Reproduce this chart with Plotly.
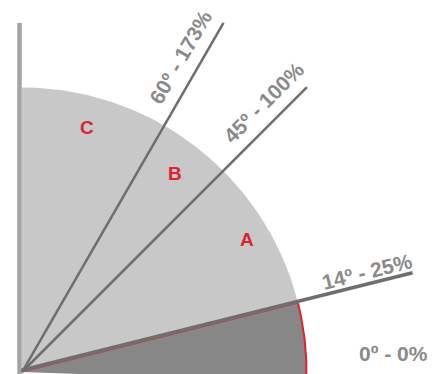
import numpy as np
import plotly.graph_objs as go

# slope angles (degrees) and matching grade in percent
angles = [0, 14, 45, 60]
grades = [0, 25, 100, 173]
zones = ["A", "B", "C"]

# drawing helpers (pixel space, y up)
W, H = 440, 374
ox, oy = 22, 2          # origin of the fan
R = 284.5               # radius of the shaded quarter disc
L = 403                 # length of the slope lines
LABEL_GREY = "#8a8a8a"
RED = "#d9252f"
FONT = "Liberation Sans, Arial, sans-serif"


def pt(deg, r):
    a = np.radians(deg)
    return ox + r * np.cos(a), oy + r * np.sin(a)


def sector(a0, a1, r):
    t = np.linspace(a0, a1, 80)
    xs = [ox] + [pt(d, r)[0] for d in t] + [ox]
    ys = [oy] + [pt(d, r)[1] for d in t] + [oy]
    return xs, ys


fig = go.Figure()

# light sector between 14 and 90 degrees
xs, ys = sector(angles[1], 90, R)
fig.add_trace(go.Scatter(x=xs, y=ys, fill="toself", fillcolor="#c8c8c8",
                         mode="lines", line={"width": 0}, hoverinfo="skip"))

# dark sector between 0 and 14 degrees
xs, ys = sector(angles[0] - 2, angles[1], R)
fig.add_trace(go.Scatter(x=xs, y=ys, fill="toself", fillcolor="#878787",
                         mode="lines", line={"width": 0}, hoverinfo="skip"))

# red arc + thin red edge for the dark sector
t = np.linspace(angles[0] - 2, angles[1], 40)
fig.add_trace(go.Scatter(x=[pt(d, R)[0] for d in t], y=[pt(d, R)[1] for d in t],
                         mode="lines", line={"color": RED, "width": 2}, hoverinfo="skip"))
ex, ey = pt(angles[1], R)
fig.add_trace(go.Scatter(x=[ox, ex], y=[oy, ey], mode="lines",
                         line={"color": RED, "width": 1}, hoverinfo="skip"))

# vertical axis line
fig.add_trace(go.Scatter(x=[ox - 2.5, ox - 2.5], y=[0, H - 23], mode="lines",
                         line={"color": "#a3a3a3", "width": 4.5}, hoverinfo="skip"))

# slope lines
widths = {14: 3.5, 45: 2.5, 60: 2.5}
for a in angles[1:]:
    shift = 1.8 if a == 14 else 0
    nx, ny = -np.sin(np.radians(a)) * shift, np.cos(np.radians(a)) * shift
    x1, y1 = pt(a, L)
    fig.add_trace(go.Scatter(x=[ox + nx, x1 + nx], y=[oy + ny, y1 + ny], mode="lines",
                             line={"color": "#6e6e6e", "width": widths[a]}, hoverinfo="skip"))

# angle / grade labels
label_place = {0: (None, None), 14: (359.5, 2.3), 45: (362, 3.1), 60: (353, 3.2)}
for a, g in zip(angles, grades):
    text = "<b>%dº - %d%%</b>" % (a, g)
    if a == 0:
        x, y, rot = 393, H - 353, 0
    else:
        r, d = label_place[a]
        x, y = pt(a + d, r)
        rot = -a
    fig.add_annotation(x=x, y=y, text=text, showarrow=False, textangle=rot,
                       xanchor="center", yanchor="middle",
                       font={"family": FONT, "size": 21, "color": LABEL_GREY})

# zone letters
zone_place = [(30.4, 261), (52.4, 251), (75.1, 253)]
for z, (a, r) in zip(zones, zone_place):
    x, y = pt(a, r)
    fig.add_annotation(x=x, y=y, text="<b>%s</b>" % z, showarrow=False,
                       xanchor="center", yanchor="middle",
                       font={"family": FONT, "size": 19, "color": RED})

fig.update_layout({
    "width": W, "height": H,
    "margin": {"l": 0, "r": 0, "t": 0, "b": 0},
    "showlegend": False,
    "plot_bgcolor": "white", "paper_bgcolor": "white",
    "xaxis": {"range": [0, W], "visible": False, "fixedrange": True},
    "yaxis": {"range": [0, H], "visible": False, "fixedrange": True},
})

fig.write_html("out.html", config={"displayModeBar": False},
               post_script="document.body.style.margin='0';")
